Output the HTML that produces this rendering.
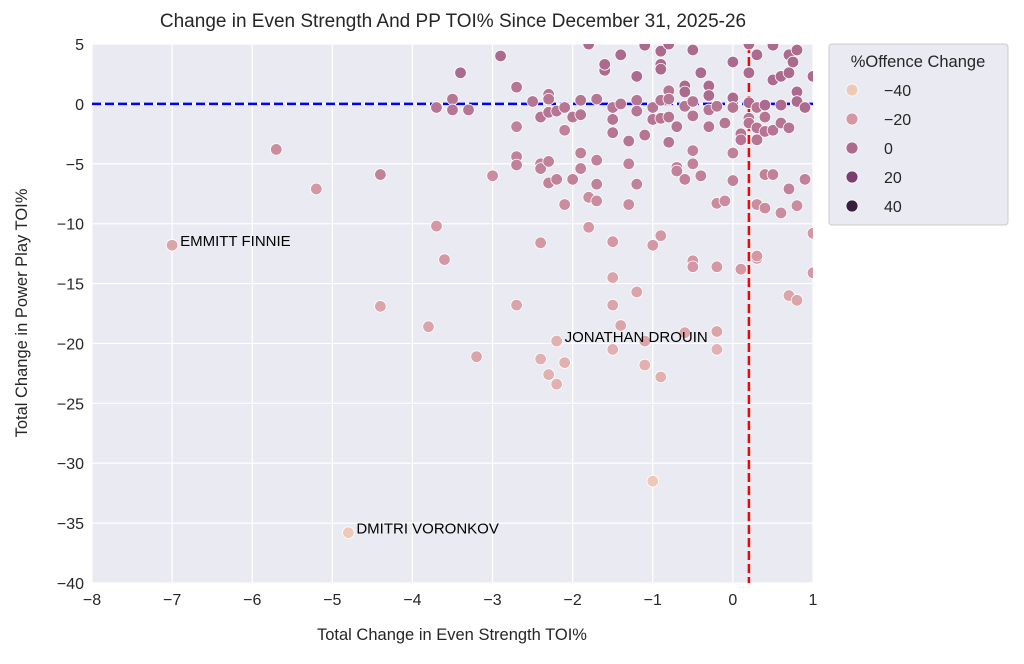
<!DOCTYPE html>
<html><head><meta charset="utf-8"><style>
body{margin:0;background:#fff;font-family:"Liberation Sans",sans-serif}
svg text{font-family:"Liberation Sans",sans-serif}
</style></head><body>
<svg id="chart" width="1024" height="659" viewBox="0 0 1024 659" xmlns="http://www.w3.org/2000/svg">
<rect width="1024" height="659" fill="#fff"/>
<text x="453" y="27" text-anchor="middle" font-size="19" fill="#262626">Change in Even Strength And PP TOI% Since December 31, 2025-26</text>
<rect x="92" y="44" width="721" height="539" fill="#eaeaf2"/>
<g id="grid"></g>
<g id="ticks"></g>
<defs><clipPath id="clip"><rect x="92" y="44" width="721" height="539"/></clipPath></defs>
<g id="refs" clip-path="url(#clip)"></g>
<g id="pts" clip-path="url(#clip)"></g>
<g id="labels"></g>
<text x="452" y="640" text-anchor="middle" font-size="16.5" fill="#262626">Total Change in Even Strength TOI%</text>
<text transform="translate(27,313) rotate(-90)" text-anchor="middle" font-size="16.5" fill="#262626">Total Change in Power Play TOI%</text>
<g>
<rect x="829" y="44" width="179" height="181" rx="3" fill="#eaeaf2" stroke="#cccccc"/>
<text x="918" y="67" text-anchor="middle" font-size="16.5" fill="#262626">%Offence Change</text>
<g id="legend-items"></g>
</g>
</svg>
<script>
const xTicks=[-8,-7,-6,-5,-4,-3,-2,-1,0,1];
const yTicks=[5,0,-5,-10,-15,-20,-25,-30,-35,-40];
const legendValues=[-40,-20,0,20,40];
const xVals=[-7.0,-5.7,-5.2,-4.4,-4.4,-4.8,-3.8,-3.7,-3.6,-3.7,-3.5,-3.5,-3.4,-3.3,-3.2,-3.0,-2.9,-2.7,-2.7,-2.7,-2.7,-2.7,-2.5,-2.4,-2.4,-2.4,-2.4,-2.4,-2.3,-2.3,-2.3,-2.3,-2.3,-2.3,-2.2,-2.2,-2.2,-2.2,-2.1,-2.1,-2.1,-2.1,-2.0,-2.0,-1.9,-1.9,-1.9,-1.9,-1.8,-1.8,-1.8,-1.7,-1.7,-1.7,-1.7,-1.6,-1.6,-1.5,-1.5,-1.5,-1.5,-1.5,-1.5,-1.5,-1.4,-1.4,-1.4,-1.3,-1.3,-1.3,-1.2,-1.2,-1.2,-1.2,-1.2,-1.1,-1.1,-1.1,-1.1,-1.0,-1.0,-1.0,-1.0,-0.9,-0.9,-0.9,-0.9,-0.9,-0.9,-0.9,-0.8,-0.8,-0.8,-0.8,-0.8,-0.7,-0.7,-0.7,-0.6,-0.6,-0.6,-0.6,-0.6,-0.5,-0.5,-0.5,-0.5,-0.5,-0.5,-0.5,-0.4,-0.4,-0.3,-0.3,-0.3,-0.3,-0.2,-0.2,-0.2,-0.2,-0.2,-0.1,-0.1,0.0,0.0,0.0,0.0,0.0,0.1,0.1,0.1,0.2,0.2,0.2,0.2,0.2,0.3,0.3,0.3,0.3,0.3,0.3,0.3,0.4,0.4,0.4,0.4,0.4,0.5,0.5,0.5,0.5,0.6,0.6,0.6,0.6,0.7,0.7,0.7,0.7,0.7,0.8,0.8,0.8,0.8,0.8,0.9,0.9,1.0,1.0,1.0,0.75];
const yVals=[-11.8,-3.8,-7.1,-5.9,-16.9,-35.8,-18.6,-10.2,-13.0,-0.3,0.4,-0.5,2.6,-0.5,-21.1,-6.0,4.0,1.4,-1.9,-4.4,-5.1,-16.8,0.2,-1.1,-5.0,-5.4,-11.6,-21.3,0.8,0.4,-0.7,-4.8,-6.6,-22.6,-0.6,-6.3,-19.8,-23.4,-2.2,-8.4,-21.6,-0.3,-1.1,-6.3,0.3,-0.9,-4.1,-5.4,5.0,-7.8,-10.3,0.4,-4.7,-6.7,-8.1,2.8,3.3,-0.3,-1.3,-2.4,-11.5,-14.5,-16.8,-20.5,4.1,0.0,-18.5,-3.1,-5.0,-8.4,2.3,0.3,-0.6,-6.7,-15.7,4.9,-2.6,-19.8,-21.8,-0.3,-1.3,-11.8,-31.5,4.4,3.3,2.9,0.3,-1.2,-11.0,-22.8,5.0,1.1,0.4,-1.1,-3.2,-1.9,-5.3,-5.6,1.5,1.0,-0.2,-6.3,-19.1,4.5,0.2,-1.0,-3.9,-5.0,-13.1,-13.6,-6.0,2.6,1.5,0.7,-0.5,-1.9,-0.2,-8.3,-13.6,-19.0,-20.5,-1.6,-8.1,3.5,0.5,-0.3,-4.1,-6.4,-2.5,-3.0,-13.8,5.0,2.6,0.1,-1.2,-1.6,4.1,-0.3,-2.0,-3.0,-12.9,-12.7,-8.4,-0.1,-1.1,-2.3,-5.9,-8.7,4.9,2.0,-2.2,-5.9,2.3,-0.1,-1.6,-9.1,4.1,2.6,-2.0,-7.1,-16.0,1.0,0.2,-8.5,-16.4,4.5,-0.3,-6.3,2.3,-10.8,-14.1,3.5];
const hueVals=[-25,-15,-20,-10,-25,-40,-25,-20,-20,-5,-5,-5,0,-5,-25,-15,0,-5,-10,-10,-10,-25,-5,-5,-10,-10,-20,-30,-5,-5,-5,-10,-10,-30,-5,-10,-30,-30,-10,-15,-30,-5,-5,-10,-5,-5,-10,-10,0,-15,-20,-5,-10,-10,-15,0,0,-5,-5,-5,-20,-25,-25,-30,0,-5,-25,-5,-10,-15,0,-5,-5,-10,-25,0,-5,-25,-30,-5,-5,-20,-40,0,0,0,-5,-5,-20,-30,0,-5,-5,-5,-5,-5,-10,-10,0,0,-5,-10,-25,0,-5,-5,-10,-10,-20,-20,-10,0,0,0,-5,-5,-5,-15,-20,-25,-30,-5,-15,0,0,-5,-10,-10,-5,-5,-20,0,0,0,-5,-5,0,-5,-5,-5,-20,-20,-15,0,-5,-5,-10,-15,0,0,-5,-10,0,0,-5,-15,0,0,-5,-10,-25,0,0,-15,-25,0,0,-10,0,-20,-20,0];
const annotations=[{name:"EMMITT FINNIE",x:-7.0,y:-11.8},{name:"DMITRI VORONKOV",x:-4.8,y:-35.8},{name:"JONATHAN DROUIN",x:-2.2,y:-19.8}];
const refX=0.2, refY=0;

const X0=92,X1=813,Y0=44,Y1=583,XMIN=-8,XMAX=1,YMIN=-40,YMAX=5;
const sx=v=>X0+(v-XMIN)/(XMAX-XMIN)*(X1-X0);
const sy=v=>Y1-(v-YMIN)/(YMAX-YMIN)*(Y1-Y0);
const stops=[[-40,[239,201,184]],[-20,[212,151,163]],[0,[173,106,143]],[20,[122,63,114]],[40,[58,30,62]]];
function col(h){h=Math.max(-40,Math.min(40,h));for(let i=0;i<stops.length-1;i++){const a=stops[i],b=stops[i+1];if(h<=b[0]){const t=(h-a[0])/(b[0]-a[0]);return 'rgb('+a[1].map((c,k)=>Math.round(c+(b[1][k]-c)*t)).join(',')+')';}}return 'rgb(58,30,62)';}
const NS='http://www.w3.org/2000/svg';
function mk(tag,attrs,parent){const e=document.createElementNS(NS,tag);for(const k in attrs)e.setAttribute(k,attrs[k]);parent.appendChild(e);return e;}
const grid=document.getElementById('grid'),ticks=document.getElementById('ticks');
xTicks.forEach(t=>{
  const l=mk('line',{x1:sx(t),x2:sx(t),y1:Y0,y2:Y1,stroke:'#fff','stroke-width':1.2},grid);
  
  
  const tx=mk('text',{x:sx(t),y:605,'text-anchor':'middle','font-size':16,fill:'#262626'},ticks);
  tx.textContent=t<0?'\u2212'+Math.abs(t):t;
  
  
});
yTicks.forEach(t=>{
  const l=mk('line',{x1:X0,x2:X1,y1:sy(t),y2:sy(t),stroke:'#fff','stroke-width':1.2},grid);
  
  
  const tx=mk('text',{x:84,y:sy(t)+6,'text-anchor':'end','font-size':16,fill:'#262626'},ticks);
  tx.textContent=t<0?'\u2212'+Math.abs(t):t;
  
  
});
const refs=document.getElementById('refs');
const hl=mk('line',{x1:X0,x2:X1,y1:sy(refY),y2:sy(refY),stroke:'#0000ff','stroke-width':2.5,'stroke-dasharray':'9,4'},refs);


const pts=document.getElementById('pts');
xVals.forEach((x,i)=>{
  const c=mk('circle',{cx:sx(x),cy:sy(yVals[i]),r:5.8,fill:col(hueVals[i]),stroke:'#fff','stroke-width':0.8},pts);
  
  
});
const vl=mk('line',{x1:sx(refX),x2:sx(refX),y1:Y0,y2:Y1,stroke:'#ff0000','stroke-width':2.5,'stroke-dasharray':'9,4'},refs);


const labels=document.getElementById('labels');
annotations.forEach(a=>{
  const t=mk('text',{x:sx(a.x)+8,y:sy(a.y)+1,'font-size':15,fill:'#000'},labels);
  t.textContent=a.name;
  
  
});
const li=document.getElementById('legend-items');
legendValues.forEach((v,i)=>{
  const y=90+i*29;
  const c=mk('circle',{cx:852,cy:y,r:6,fill:col(v),stroke:'#fff','stroke-width':0.8},li);
  
  
  const t=mk('text',{x:884,y:y+6,'font-size':16,fill:'#262626'},li);
  t.textContent=v<0?'\u2212'+Math.abs(v):v;
  
  
});
</script>
</body></html>
